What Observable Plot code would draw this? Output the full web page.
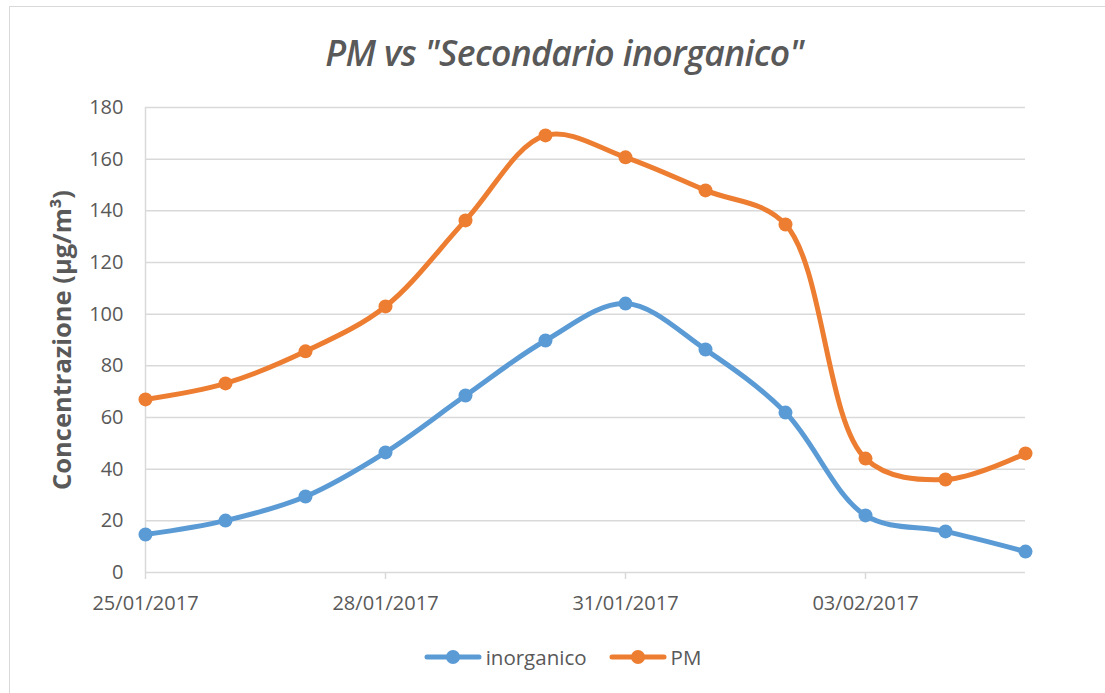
<!DOCTYPE html>
<html>
<head>
<meta charset="utf-8">
<script src="https://cdn.jsdelivr.net/npm/d3@7"></script>
<script src="https://cdn.jsdelivr.net/npm/@observablehq/plot@0.6"></script>
<style>
  html, body { margin: 0; padding: 0; background: #fff; }
  #wrap { position: relative; width: 1105px; height: 693px; overflow: hidden; font-family: "Open Sans", sans-serif; }
  #frame { position: absolute; left: 9px; top: 6px; width: 1200px; height: 800px; border: 1.5px solid #d9d9d9; box-sizing: border-box; }
  #title { position: absolute; left: 12px; width: 1105px; top: 27px; text-align: center; font-size: 35.5px; line-height: 50px; font-style: italic; font-weight: 600; color: #595959; letter-spacing: -0.6px; }
  #chart { position: absolute; left: 0; top: 80px; }
  #legend { position: absolute; top: 643px; left: 10px; width: 1105px; display: flex; justify-content: center; align-items: center; gap: 22px; font-size: 20.5px; color: #595959; }
  .item { display: flex; align-items: center; gap: 4px; }
</style>
</head>
<body>
<div id="wrap">
  <div id="frame"></div>
  <div id="title">PM vs "Secondario inorganico"</div>
  <div id="chart"></div>
  <div id="legend"></div>
</div>
<script>
const dates = ["2017-01-25","2017-01-26","2017-01-27","2017-01-28","2017-01-29","2017-01-30","2017-01-31","2017-02-01","2017-02-02","2017-02-03","2017-02-04","2017-02-05"];
const inorganico = [14.7, 20.1, 29.4, 46.5, 68.5, 89.8, 104.1, 86.3, 61.9, 22.1, 15.9, 8.1];
const pm = [67.0, 73.2, 85.6, 103.0, 136.3, 169.2, 160.7, 147.9, 134.7, 44.1, 36.0, 46.1];
const yTicks = [0, 20, 40, 60, 80, 100, 120, 140, 160, 180];
const xTickDates = ["2017-01-25","2017-01-28","2017-01-31","2017-02-03"];
const seriesNames = ["inorganico", "PM"];
const seriesColors = ["#5B9BD5", "#ED7D31"];

const parse = d3.utcParse("%Y-%m-%d");
const rows = [];
dates.forEach((d, i) => {
  rows.push({date: parse(d), value: inorganico[i], series: "inorganico"});
  rows.push({date: parse(d), value: pm[i], series: "PM"});
});

const chart = Plot.plot({
  width: 1105,
  height: 560,
  marginLeft: 145,
  marginRight: 80,
  marginTop: 27,
  marginBottom: 68,
  style: { fontFamily: "Open Sans, sans-serif", fontSize: "20px", color: "#595959", background: "transparent" },
  x: { type: "utc", domain: [parse(dates[0]), parse(dates[dates.length - 1])], label: null },
  y: { domain: [0, 180], label: null },
  color: { domain: seriesNames, range: seriesColors },
  marks: [
    Plot.gridY(yTicks, { stroke: "#d9d9d9", strokeOpacity: 1, strokeWidth: 1.5 }),
    Plot.ruleX([parse(dates[0])], { stroke: "#d9d9d9", strokeWidth: 1.5 }),
    Plot.axisX({ ticks: xTickDates.map(parse), tickFormat: d3.utcFormat("%d/%m/%Y"), tickSize: 7, tickPadding: 16, stroke: "#d9d9d9", strokeWidth: 1.5, fill: "#595959", fontSize: 20, label: null }),
    Plot.axisY({ ticks: yTicks, tickSize: 0, tickPadding: 22, fill: "#595959", fontSize: 20, label: null }),
    Plot.line(rows, { x: "date", y: "value", z: "series", stroke: "series", strokeWidth: 5, curve: "catmull-rom" }),
    Plot.dot(rows, { x: "date", y: "value", fill: "series", r: 7 }),
    Plot.text(["Concentrazione (µg/m³)"], { frameAnchor: "left", dx: -83, rotate: -90, textAnchor: "middle", fontSize: 25.5, fontWeight: "bold", fill: "#595959" })
  ]
});
document.getElementById("chart").appendChild(chart);

const legend = document.getElementById("legend");
seriesNames.forEach((name, i) => {
  const item = document.createElement("div");
  item.className = "item";
  item.innerHTML = `<svg width="58" height="16"><line x1="3" y1="8" x2="55" y2="8" stroke="${seriesColors[i]}" stroke-width="5" stroke-linecap="round"/><circle cx="29" cy="8" r="7" fill="${seriesColors[i]}"/></svg><span>${name}</span>`;
  legend.appendChild(item);
});
</script>
</body>
</html>
